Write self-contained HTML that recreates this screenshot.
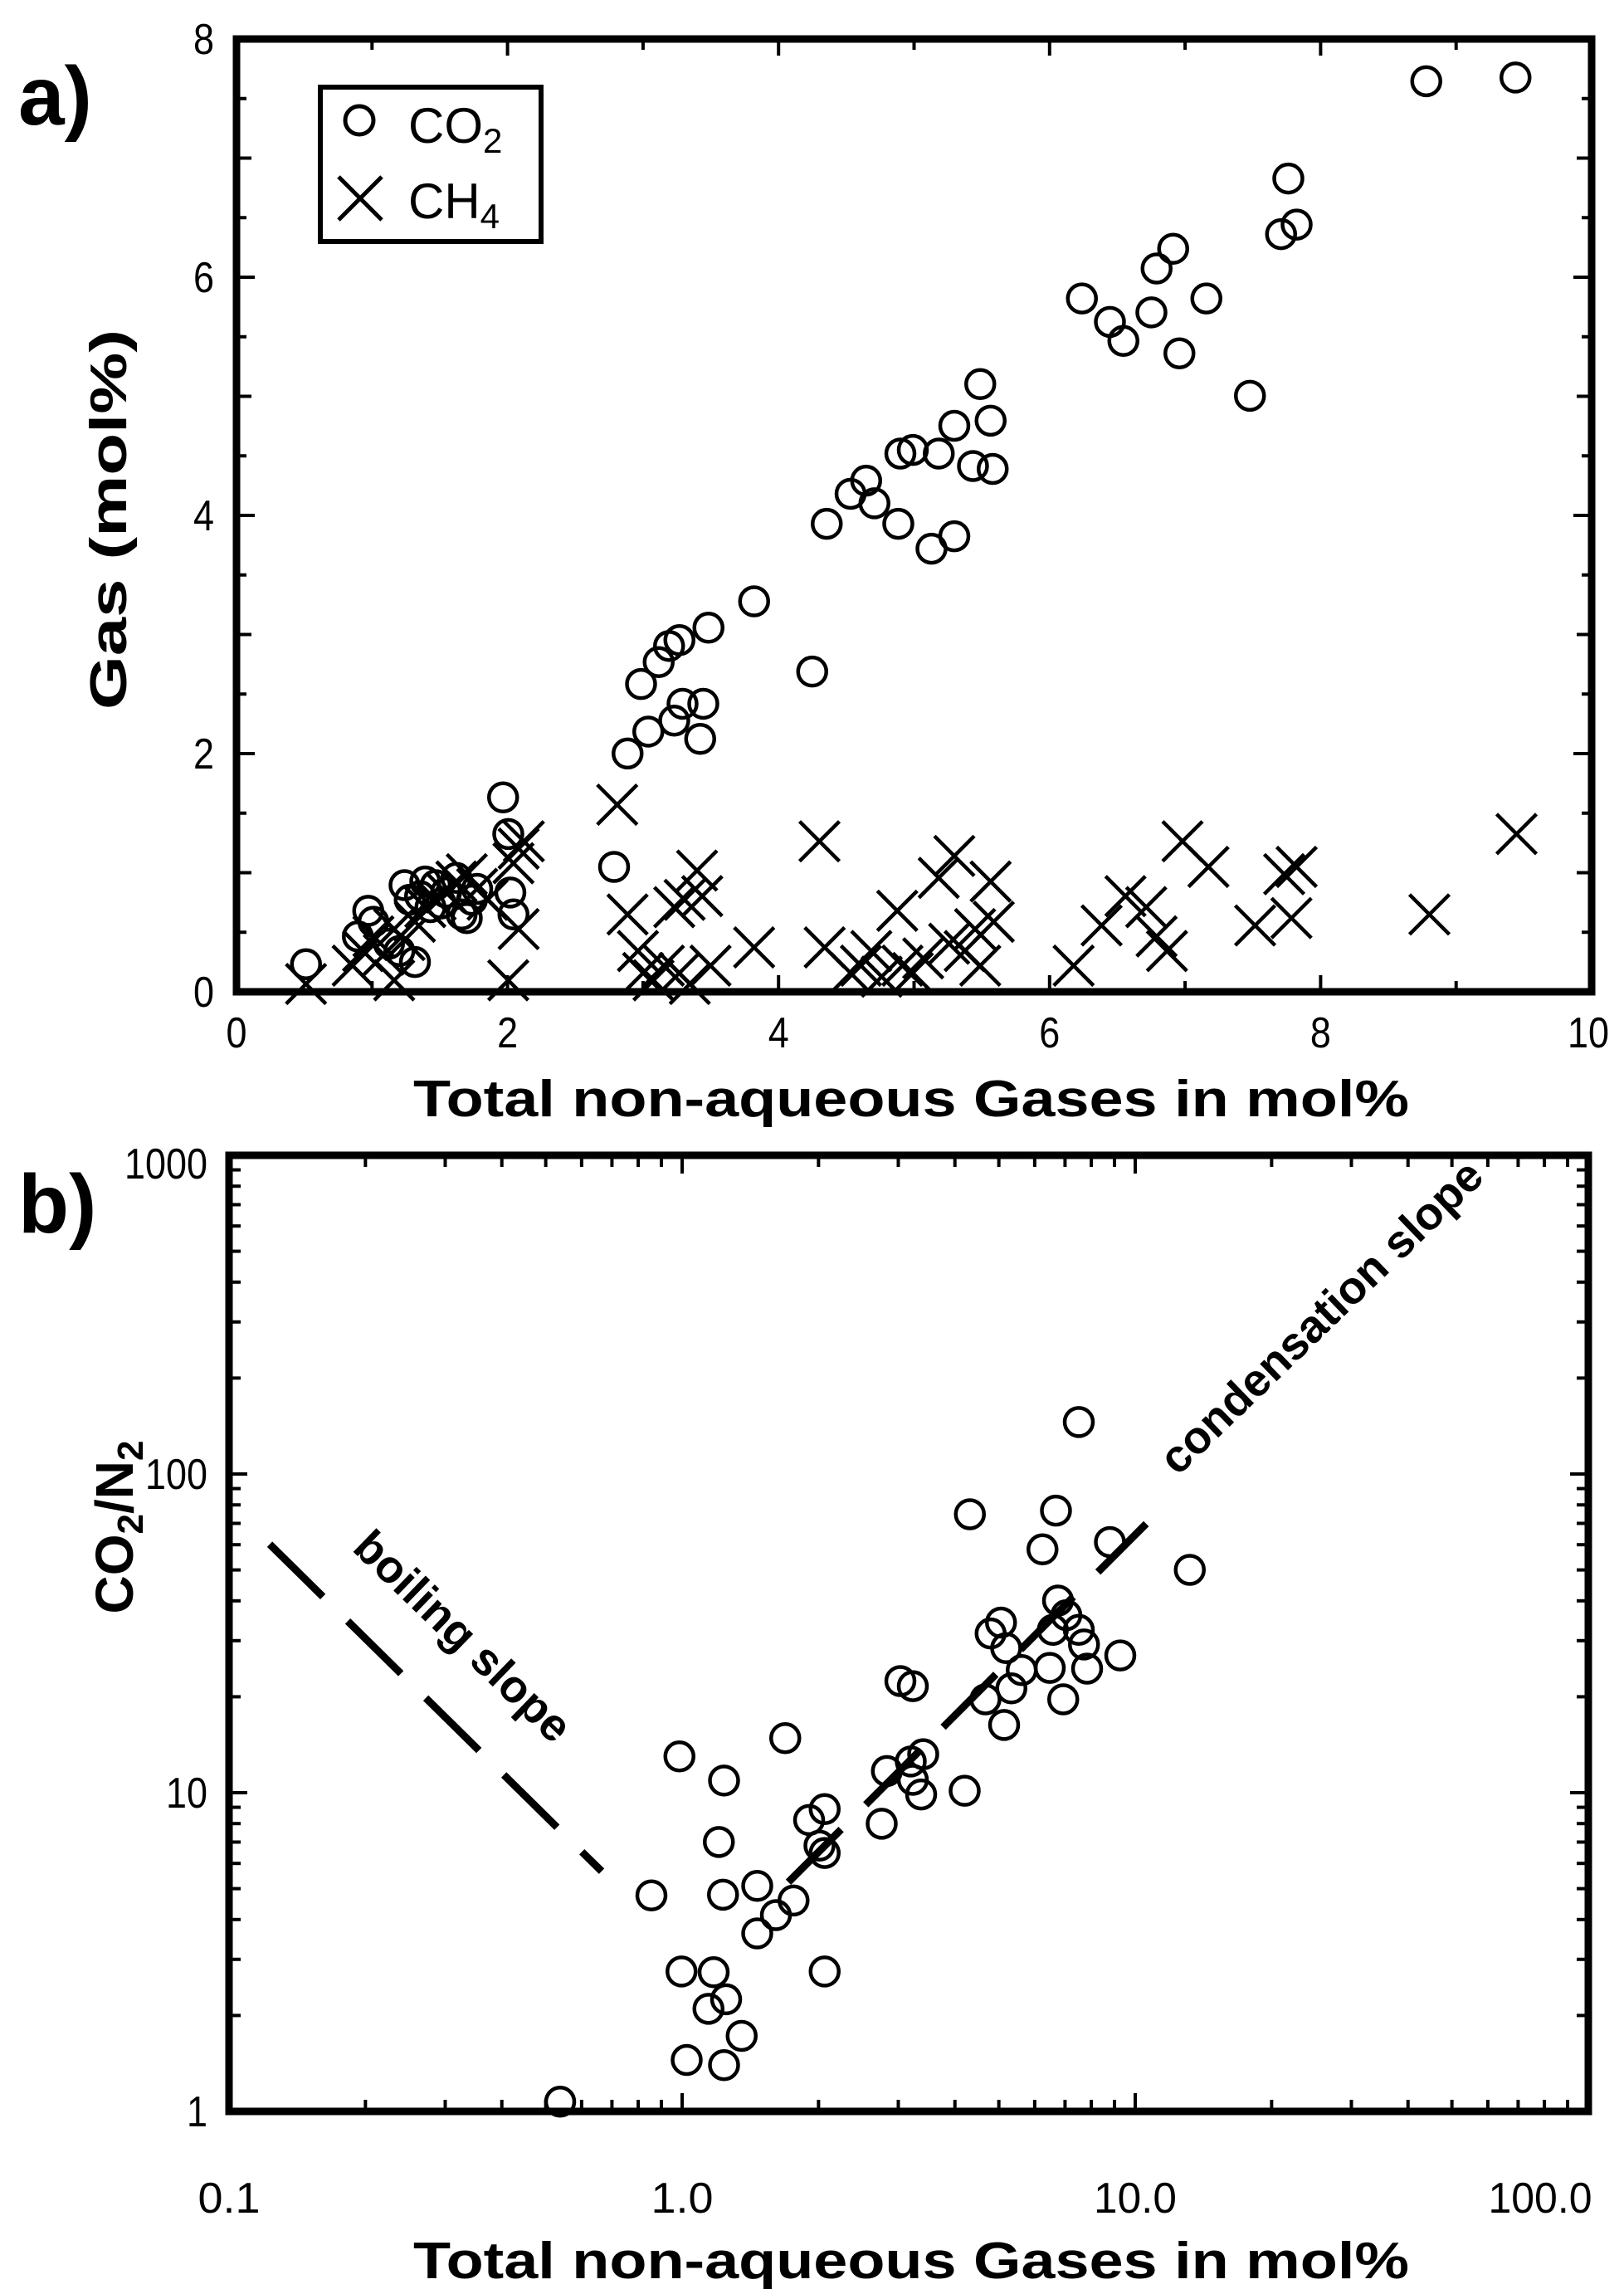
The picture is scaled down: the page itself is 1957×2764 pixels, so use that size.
<!DOCTYPE html>
<html><head><meta charset="utf-8">
<style>
html,body{margin:0;padding:0;background:#fff;}
svg{display:block;}
text{font-family:"Liberation Sans",sans-serif;fill:#000;}
</style></head>
<body>
<svg id="s" xmlns="http://www.w3.org/2000/svg" width="1957" height="2764" viewBox="0 0 1957 2764">
<rect width="1957" height="2764" fill="#fff"/>
<text x="22" y="150" font-size="100" font-weight="bold">a)</text>
<text x="22" y="1485" font-size="100" font-weight="bold">b)</text>
<text x="1098" y="1345" font-size="62" font-weight="bold" text-anchor="middle" textLength="1200" lengthAdjust="spacingAndGlyphs">Total non-aqueous Gases in mol%</text>
<text x="1098" y="2745" font-size="62" font-weight="bold" text-anchor="middle" textLength="1200" lengthAdjust="spacingAndGlyphs">Total non-aqueous Gases in mol%</text>
<text transform="translate(152,626) rotate(-90)" font-size="62" font-weight="bold" text-anchor="middle" textLength="458" lengthAdjust="spacingAndGlyphs">Gas (mol%)</text>
<text transform="translate(160,1840) rotate(-90)" font-size="64" font-weight="bold" text-anchor="middle">CO<tspan font-size="44" dy="12">2</tspan><tspan dy="-12">/N</tspan><tspan font-size="44" dy="12">2</tspan></text>
<rect x="386" y="105" width="266" height="186" fill="#fff" stroke="#000" stroke-width="6"/>
<circle cx="433" cy="145" r="17" fill="none" stroke="#000" stroke-width="5"/>
<path d="M408,213 L460,265 M460,213 L408,265" stroke="#000" stroke-width="5"/>
<text x="492" y="172" font-size="60">CO<tspan font-size="42" dy="12">2</tspan></text>
<text x="492" y="263" font-size="60">CH<tspan font-size="42" dy="12">4</tspan></text>
<text transform="translate(545,1985) rotate(44)" font-size="55" font-weight="bold" text-anchor="middle">boiling slope</text>
<text transform="translate(1605,1600) rotate(-44)" font-size="55" font-weight="bold" text-anchor="middle">condensation slope</text>
<g id="g"></g>
</svg>
<script>
var g=document.getElementById('g'),h='';
function L(x1,y1,x2,y2,w,extra){h+='<line x1="'+x1+'" y1="'+y1+'" x2="'+x2+'" y2="'+y2+'" stroke="#000" stroke-width="'+w+'"'+(extra||'')+'/>';}
function T(x,y,s,a){s=String(s);var tl=s.length*25;h+='<text x="'+x+'" y="'+y+'" font-size="52" text-anchor="'+a+'" textLength="'+tl+'" lengthAdjust="spacingAndGlyphs">'+s+'</text>';}
var aL=285,aR=1918,aT=47,aB=1195;
function ax(v){return aL+(aR-aL)*v/10;} function ay(v){return aB-(aB-aT)*v/8;}
for(var i=0;i<=10;i++){var x=ax(i),len=i%2==0?20:13;L(x,aB,x,aB-len,4);L(x,aT,x,aT+len,4);if(i%2==0)T(i==10?x-4:x,1262,i,'middle');}
for(var j=0;j<=16;j++){var v=j/2,y=ay(v),len=(j%4==0)?22:(j%2==0?18:12);L(aL,y,aL+len,y,4);L(aR,y,aR-len,y,4);if(j%4==0)T(258,y+18,v,'end');}
h+='<rect x="'+aL+'" y="'+aT+'" width="'+(aR-aL)+'" height="'+(aB-aT)+'" fill="none" stroke="#000" stroke-width="9"/>';
var co2=[[295,1318],[345,1280],[355,1245],[360,1260],[375,1290],[385,1300],[390,1210],[395,1230],[400,1315],[405,1225],[410,1205],[415,1240],[420,1210],[425,1235],[430,1220],[440,1200],[445,1250],[450,1255],[455,1230],[460,1215],[485,1090],[490,1140],[492,1220],[495,1250],[592,1185],[605,1030],[618,935],[625,1000],[635,905],[645,883],[650,985],[655,875],[658,962],[675,1010],[678,962],[683,858],[727,822],[783,918],[797,716],[820,675],[835,657],[843,688],[866,716],[868,620],[880,615],[898,750],[905,620],[920,733],[920,582],[938,637],[945,525],[955,575],[957,641],[1043,408],[1070,440],[1083,466],[1110,427],[1115,367],[1131,340],[1137,483],[1163,408],[1205,541],[1235,320],[1242,244],[1250,307],[1375,111],[1461,106]];
var ch4=[[295,1345],[340,1320],[350,1300],[360,1280],[370,1305],[380,1270],[390,1285],[400,1260],[410,1240],[420,1230],[430,1220],[440,1205],[450,1195],[460,1215],[470,1230],[380,1340],[490,1340],[495,1180],[500,1160],[500,1270],[505,1150],[595,1100],[605,1250],[615,1300],[620,1330],[630,1340],[640,1320],[650,1240],[655,1330],[660,1230],[665,1345],[672,1190],[677,1225],[685,1320],[727,1295],[790,1150],[795,1295],[820,1330],[830,1320],[840,1300],[850,1335],[865,1245],[870,1320],[880,1330],[890,1310],[905,1200],[915,1290],[920,1170],[930,1300],[940,1270],[945,1320],[955,1205],[958,1260],[1035,1320],[1062,1265],[1085,1225],[1105,1240],[1115,1280],[1125,1300],[1140,1150],[1165,1185],[1210,1265],[1238,1195],[1245,1255],[1250,1185],[1378,1250],[1462,1140]];
co2.forEach(function(p){h+='<circle cx="'+(p[0]/0.8)+'" cy="'+(p[1]/1.1345)+'" r="17" fill="none" stroke="#000" stroke-width="4.5"/>';});
ch4.forEach(function(p){var x=p[0]/0.8,y=p[1]/1.1345,d=24;h+='<path d="M'+(x-d)+','+(y-d)+'L'+(x+d)+','+(y+d)+'M'+(x+d)+','+(y-d)+'L'+(x-d)+','+(y+d)+'" stroke="#000" stroke-width="4.5" fill="none"/>';});
var bL=276,bR=1914,bT=1392,bB=2544;
var dx=(bR-bL)/3,dy=(bB-bT)/3;
for(var e=0;e<3;e++)for(var k=1;k<=10;k++){if(k==10&&e<2)continue;var x=bL+dx*(e+Math.log10(k)),len=(k==1||k==10)?22:14;L(x,bB,x,bB-len,4);L(x,bT,x,bT+len,4);var y=bB-dy*(e+Math.log10(k));L(bL,y,bL+len,y,4);L(bR,y,bR-len,y,4);}
var xl=['0.1','1.0','10.0','100.0'],yl=['1','10','100','1000'];
for(var e=0;e<4;e++){T(e==3?bR-58:bL+dx*e,2666,xl[e],'middle');T(250,bB-dy*e+(e==3?28:18),yl[e],'end');}
h+='<rect x="'+bL+'" y="'+bT+'" width="'+(bR-bL)+'" height="'+(bB-bT)+'" fill="none" stroke="#000" stroke-width="9"/>';
var pb=[[540,1305],[628,1023],[655,833],[657,1127],[662,1248],[688,1128],[693,950],[698,866],[697,1022],[683,1178],[700,1165],[715,1215],[698,1255],[730,1010],[730,1075],[748,1050],[757,808],[765,1030],[795,1127],[780,920],[790,955],[795,965],[795,905],[850,925],[855,853],[868,730],[880,737],[878,840],[880,865],[890,830],[888,885],[930,880],[935,502],[950,755],[955,665],[965,650],[968,790],[970,685],[975,740],[985,715],[1005,550],[1012,712],[1015,660],[1018,497],[1020,620],[1025,755],[1028,640],[1040,660],[1045,680],[1048,713],[1040,376],[1070,540],[1080,695],[1147,578]];
pb.forEach(function(p){h+='<circle cx="'+(p[0]/0.8)+'" cy="'+(1382+p[1]/1.1345)+'" r="17" fill="none" stroke="#000" stroke-width="4.5"/>';});
L(260/0.8,1382+543/1.1345,580/0.8,1382+990/1.1345,9,' stroke-dasharray="90 42"');
L(760/0.8,1382+1005/1.1345,1105/0.8,1382+515/1.1345,9,' stroke-dasharray="90 42"');
g.innerHTML=h;
</script>
</body></html>
